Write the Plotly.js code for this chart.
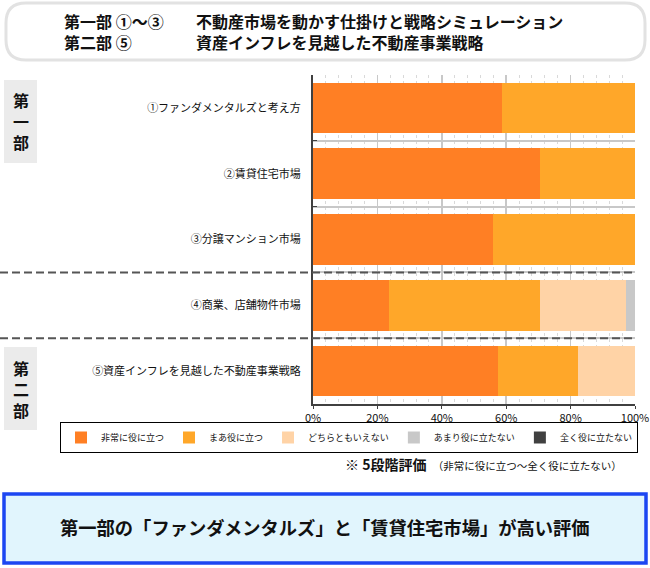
<!DOCTYPE html>
<html><head><meta charset="utf-8">
<script src="https://cdn.plot.ly/plotly-3.0.1.min.js"></script>
<style>html,body{margin:0;padding:0;background:#fff}#chart{width:650px;height:568px}</style>
</head><body><div id="chart"></div>
<script>
const categories = ['①ファンダメンタルズと考え方','②賃貸住宅市場','③分譲マンション市場','④商業、店舗物件市場','⑤資産インフレを見越した不動産事業戦略'];
const seriesNames = ['非常に役に立つ','まあ役に立つ','どちらともいえない','あまり役に立たない','全く役に立たない'];
const veryUseful     = [58.8, 70.6, 55.9, 23.5, 57.4];
const somewhatUseful = [41.2, 29.4, 44.1, 47.1, 24.9];
const neutral        = [0, 0, 0, 26.5, 17.7];
const notVeryUseful  = [0, 0, 0, 2.9, 0];
const notUseful      = [0, 0, 0, 0, 0];
const xTickVals = [0, 20, 40, 60, 80, 100];
const xTickText = ['0%', '20%', '40%', '60%', '80%', '100%'];

const seriesValues = [veryUseful, somewhatUseful, neutral, notVeryUseful, notUseful];
const colors = ['#FF7F24', '#FFA729', '#FFD3A6', '#C8C8C8', '#404040'];
const FONT = '"Noto Sans CJK JP", "Noto Sans", sans-serif';

// pixel -> paper conversion (plot area: x 313..635, y 75..404)
const L = 313, R = 635, T = 75, B = 404;
const px = x => (x - L) / (R - L);
const py = y => (B - y) / (B - T);

const traces = seriesNames.map((name, i) => ({
  type: 'bar', orientation: 'h', name: name,
  y: categories, x: seriesValues[i],
  marker: {color: colors[i], line: {width: 0}},
  hoverinfo: 'skip'
}));

function roundRect(x0, y0, x1, y1, r) {
  const P = (x, y) => px(x).toFixed(5) + ',' + py(y).toFixed(5);
  return 'M' + P(x0 + r, y0) + ' L' + P(x1 - r, y0) + ' Q' + P(x1, y0) + ' ' + P(x1, y0 + r) +
    ' L' + P(x1, y1 - r) + ' Q' + P(x1, y1) + ' ' + P(x1 - r, y1) +
    ' L' + P(x0 + r, y1) + ' Q' + P(x0, y1) + ' ' + P(x0, y1 - r) +
    ' L' + P(x0, y0 + r) + ' Q' + P(x0, y0) + ' ' + P(x0 + r, y0) + ' Z';
}
function rect(x0, y0, x1, y1, fill, lineColor, lw, layer) {
  return {type: 'rect', xref: 'paper', yref: 'paper', x0: px(x0), x1: px(x1), y0: py(y1), y1: py(y0),
    fillcolor: fill, line: {color: lineColor || fill, width: lw || 0}, layer: layer || 'below'};
}

const shapes = [
  {type: 'path', xref: 'paper', yref: 'paper', path: roundRect(6, 3, 645, 60, 20),
   fillcolor: '#ffffff', line: {color: '#e2e2e2', width: 3}, layer: 'below'},
  rect(4, 80, 37, 163, '#ebebeb'),
  rect(4, 347, 37, 430, '#ebebeb'),
  rect(4, 494, 646, 563, '#E1F5FD', '#1C46F2', 3.5),
  {type: 'line', xref: 'paper', yref: 'y', x0: px(0), x1: 1, y0: 2.5, y1: 2.5,
   line: {color: '#555555', width: 2, dash: '8px,4px'}, layer: 'above'},
  {type: 'line', xref: 'paper', yref: 'y', x0: px(0), x1: 1, y0: 3.5, y1: 3.5,
   line: {color: '#555555', width: 2, dash: '8px,4px'}, layer: 'above'}
];

function ann(text, x, y, size, xanchor, bold, extra) {
  return Object.assign({xref: 'paper', yref: 'paper', x: px(x), y: py(y), text: bold ? '<b>' + text + '</b>' : text,
    showarrow: false, xanchor: xanchor || 'left', yanchor: 'middle', align: 'left',
    font: {family: FONT, size: size, color: '#111'}}, extra || {});
}

const annotations = [
  ann('第一部 ①〜③<br>第二部 ⑤', 62, 31, 16, 'left', true),
  ann('不動産市場を動かす仕掛けと戦略シミュレーション<br>資産インフレを見越した不動産事業戦略', 194, 31, 16, 'left', true),
  ann('第<br>一<br>部', 20.5, 121, 16, 'center', true, {align: 'center'}),
  ann('第<br>二<br>部', 20.5, 389, 16, 'center', true, {align: 'center'}),
  ann('<b>※ 5段階評価</b>  <span style="font-size:10.5px">（非常に役に立つ〜全く役に立たない）</span>', 343, 464, 14, 'left', false),
  ann('第一部の「ファンダメンタルズ」と「賃貸住宅市場」が高い評価', 325, 527, 18.3, 'center', true)
];

const layout = {
  width: 650, height: 568,
  margin: {l: L, r: 650 - R, t: T, b: 568 - B, pad: 0},
  paper_bgcolor: '#ffffff', plot_bgcolor: '#ffffff',
  barmode: 'stack', bargap: 0.23,
  font: {family: FONT, size: 11, color: '#111'},
  showlegend: true,
  legend: {orientation: 'h', x: px(60), xanchor: 'left', y: py(422), yanchor: 'top',
    bordercolor: '#000', borderwidth: 1, font: {family: FONT, size: 9, color: '#111'},
    traceorder: 'normal', itemclick: false},
  xaxis: {range: [0, 100], tickmode: 'array', tickvals: xTickVals, ticktext: xTickText, showgrid: true, gridcolor: '#c8c8c8', gridwidth: 1.5,
    zeroline: false, showline: true, linecolor: '#404040', linewidth: 1.5, ticks: 'outside', ticklen: 3,
    tickcolor: '#404040', tickfont: {family: FONT, size: 11, color: '#111'},
    minor: {dtick: 4, showgrid: true, gridcolor: '#d9d9d9', griddash: 'dot', gridwidth: 1}, fixedrange: true},
  yaxis: {type: 'category', autorange: 'reversed', tickson: 'boundaries', showgrid: true, gridcolor: '#c8c8c8', gridwidth: 2,
    showline: true, linecolor: '#404040', linewidth: 2, ticks: 'inside', ticklen: 4, tickcolor: '#404040',
    ticklabelstandoff: 8, tickfont: {family: FONT, size: 11, color: '#111'}, fixedrange: true},
  shapes: shapes, annotations: annotations
};

Plotly.newPlot('chart', traces, layout, {displayModeBar: false, staticPlot: true});
</script></body></html>
